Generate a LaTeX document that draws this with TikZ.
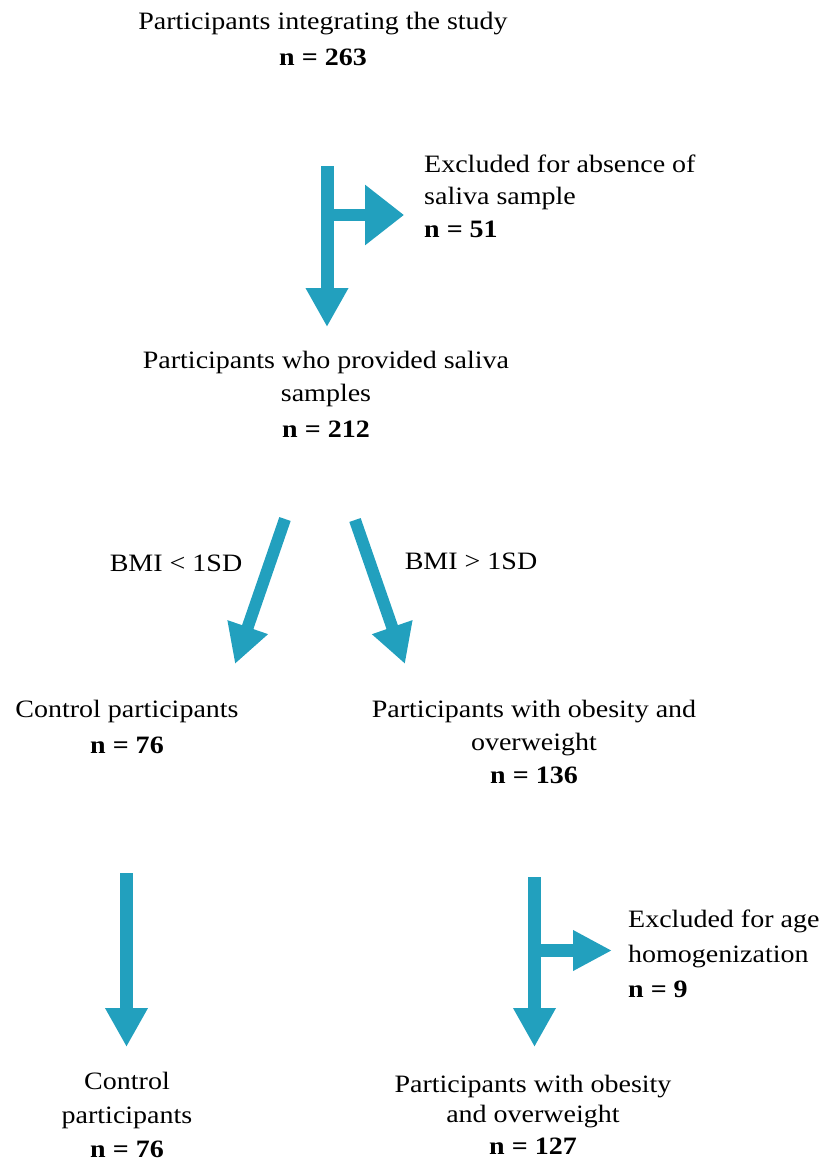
\documentclass[tikz,border=0pt]{standalone}
\usepackage{fontspec}
\setmainfont{Liberation Serif}[FakeStretch=1.12]
\usetikzlibrary{arrows.meta}
\definecolor{flowblue}{RGB}{34,160,190}
\tikzset{
  lbl/.style={inner sep=0pt, font=\fontsize{25}{33}\selectfont, align=center, anchor=base},
  lbll/.style={lbl, align=left, anchor=base west},
  flow/.style={draw=flowblue, line width=13pt, -{Triangle[length=39pt,width=40pt]}},
  side/.style={flow, line width=12.5pt, -{Triangle[length=39pt,width=#1]}},
}
\begin{document}
\begin{tikzpicture}[x=1pt, y=-1pt]
\useasboundingbox (0,0) rectangle (826,1165);

% ---- labels (anchored at the baseline of the last line) ----
\node[lbl] (start) at (323,65) {Participants integrating the study\\[3pt]\textbf{n = 263}};
\node[lbll] (excl1) at (424,237) {Excluded for absence of\\[-0.5pt]saliva sample\\[-0.5pt]\textbf{n = 51}};
\node[lbl] (saliva) at (326,437) {Participants who provided saliva\\samples\\[3pt]\textbf{n = 212}};
\node[lbl] (low) at (176,571) {BMI < 1SD};
\node[lbl] (high) at (471,569) {BMI > 1SD};
\node[lbl] (ctrl1) at (127,753) {Control participants\\[3pt]\textbf{n = 76}};
\node[lbl] (obese1) at (534,783) {Participants with obesity and\\overweight\\\textbf{n = 136}};
\node[lbll] (excl2) at (628,997) {Excluded for age\\[2pt]homogenization\\[2pt]\textbf{n = 9}};
\node[lbl] (ctrl2) at (127,1157) {Control\\[1pt]participants\\[1pt]\textbf{n = 76}};
\node[lbl] (obese2) at (533,1154) {Participants with obesity\\[-3pt]and overweight\\[-1pt]\textbf{n = 127}};

% ---- arrow end points ----
\coordinate (a1s) at (327,166);  \coordinate (a1e) at (327,327);
\coordinate (b1s) at (327,215);  \coordinate (b1e) at (404,215);
\coordinate (l1s) at (285,519);  \coordinate (l1e) at (235,664);
\coordinate (r1s) at (355,520);  \coordinate (r1e) at (405,664);
\coordinate (c2s) at (126.5,873); \coordinate (c2e) at (126.5,1047);
\coordinate (o2s) at (534.5,877); \coordinate (o2e) at (534.5,1047);
\coordinate (b2s) at (534.5,950.5); \coordinate (b2e) at (612,950.5);

% ---- arrows ----
\draw[side=58pt] (b1s) -- (b1e);
\draw[flow] (a1s) -- (a1e);
\draw[flow, line width=12pt] (l1s) -- (l1e);
\draw[flow, line width=12pt] (r1s) -- (r1e);
\draw[flow] (c2s) -- (c2e);
\draw[side=38pt] (b2s) -- (b2e);
\draw[flow] (o2s) -- (o2e);
\end{tikzpicture}
\end{document}
